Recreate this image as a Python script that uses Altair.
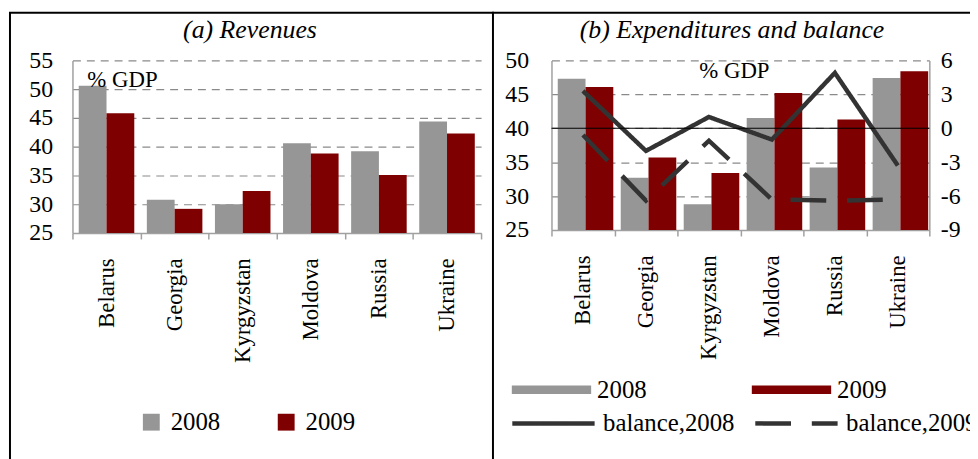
import altair as alt
import pandas as pd

# ---------------- data ----------------
countries = ["Belarus", "Georgia", "Kyrgyzstan", "Moldova", "Russia", "Ukraine"]
years = ["2008", "2009"]
revenues_2008 = [50.6, 30.8, 30.0, 40.6, 39.2, 44.4]
revenues_2009 = [45.8, 29.2, 32.3, 38.8, 35.1, 42.3]
expenditures_2008 = [47.3, 32.7, 28.8, 41.5, 34.2, 47.4]
expenditures_2009 = [46.1, 35.7, 33.4, 45.2, 41.3, 48.4]
balance_series = ["balance,2008", "balance,2009"]
balance_2008 = [3.3, -2.0, 1.0, -1.0, 4.9, -3.3]
balance_2009 = [-0.6, -6.4, -1.1, -6.3, -6.4, -6.3]
left_ticks = [25, 30, 35, 40, 45, 50, 55]
right_ticks_primary = [25, 30, 35, 40, 45, 50]
right_ticks_secondary = [-9, -6, -3, 0, 3, 6]
panel_titles = ["(a) Revenues", "(b) Expenditures and balance"]
unit_label = "% GDP"

# ---------------- styles ----------------
FONT = "Liberation Serif"
GRAY = "#969696"
RED = "#7f0000"
LINE = "#333333"
AXIS_GRAY = "#a0a0a0"
GRID_GRAY = "#8a8a8a"

LW, LH = 412, 174
RW, RH = 381, 171


def long_df(a, b, labels, key):
    return pd.DataFrame({
        "country": countries * 2,
        key: [labels[0]] * len(countries) + [labels[1]] * len(countries),
        "value": a + b,
    })


rev_df = long_df(revenues_2008, revenues_2009, years, "year")
exp_df = long_df(expenditures_2008, expenditures_2009, years, "year")
bal_df = long_df(balance_2008, balance_2009, balance_series, "series")
blank = alt.Data(values=[{}])


def x_enc():
    return alt.X(
        "country:N", sort=countries,
        scale=alt.Scale(paddingInner=0, paddingOuter=0),
        axis=alt.Axis(title=None, labelAngle=270, labelFontSize=23, labelPadding=19,
                      tickBand="extent", ticks=True, tickSize=6, tickColor=AXIS_GRAY,
                      tickWidth=1.5, domainColor=AXIS_GRAY, domainWidth=1.5,
                      grid=False, labelOverlap=False),
    )


def bar_layer(df, ymax, ticks, pad_outer, label_pad, legend):
    return alt.Chart(df).mark_bar().encode(
        x=x_enc(),
        xOffset=alt.XOffset("year:N", sort=years,
                            scale=alt.Scale(paddingInner=0, paddingOuter=pad_outer)),
        y=alt.Y("value:Q",
                scale=alt.Scale(domain=[25, ymax], nice=False, zero=False),
                axis=alt.Axis(title=None, values=ticks, grid=True, gridDash=[8, 6],
                              gridColor=GRID_GRAY, gridWidth=1.2, ticks=False,
                              domainColor=AXIS_GRAY, domainWidth=1.5,
                              labelFontSize=24, labelPadding=label_pad,
                              labelOverlap=False)),
        y2=alt.datum(25),
        color=alt.Color("year:N", sort=years,
                        scale=alt.Scale(domain=years, range=[GRAY, RED]),
                        legend=legend),
    )


def text_layer(txt, x, y, size, style="normal", align="left", baseline="middle"):
    return alt.Chart(blank).mark_text(
        font=FONT, fontSize=size, fontStyle=style, align=align,
        baseline=baseline, color="black",
    ).encode(x=alt.value(x), y=alt.value(y), text=alt.value(txt))


def vrule(x, y0, y1):
    return alt.Chart(blank).mark_rule(color="black", strokeWidth=2).encode(
        x=alt.value(x), y=alt.value(y0), y2=alt.value(y1))


def hrule(y, x0, x1):
    return alt.Chart(blank).mark_rule(color="black", strokeWidth=2).encode(
        y=alt.value(y), x=alt.value(x0), x2=alt.value(x1))


# ---------------- panel (a) ----------------
left_legend = alt.Legend(
    title=None, orient="none", legendX=67, legendY=352, direction="horizontal",
    symbolType="square", symbolSize=289, symbolStrokeWidth=0,
    labelFontSize=25, labelOffset=7, columnPadding=54, padding=0,
)

left = alt.layer(
    bar_layer(rev_df, 55, left_ticks, 0.226, 20, left_legend),
    text_layer(unit_label, 15, 20, 23),
    text_layer(panel_titles[0], 179, -23, 26, "italic", "center", "alphabetic"),
    vrule(-63, -48, 420),
    vrule(424, -48, 420),
    hrule(-48, -64, 425),
).properties(width=LW, height=LH)

# ---------------- panel (b) ----------------
right_legend = alt.Legend(
    title=None, orient="none", legendX=-40, legendY=292, direction="horizontal",
    symbolType="M-1,-0.106H1V0.106H-1Z", symbolSize=6400, symbolStrokeWidth=0,
    labelFontSize=25, labelOffset=6, columnPadding=106, padding=0,
)

bars_r = bar_layer(exp_df, 50, right_ticks_primary, 0.245, 23, right_legend)

right_axis = alt.Axis(title=None, orient="right", values=right_ticks_secondary,
                      labelExpr="toString(datum.value)", grid=False, ticks=False,
                      domainColor=AXIS_GRAY, domainWidth=1.5,
                      labelFontSize=24, labelPadding=11, labelOverlap=False,
                      labelBound=False, labelFlush=False)

lines = alt.Chart(bal_df).mark_line(color=LINE, strokeWidth=4.5).encode(
    x=x_enc(),
    y=alt.Y("value:Q",
            scale=alt.Scale(domain=[-9, 6], nice=False, zero=False),
            axis=right_axis),
    strokeDash=alt.StrokeDash(
        "series:N", sort=balance_series,
        scale=alt.Scale(domain=balance_series, range=[[1, 0], [36, 21]]),
        legend=alt.Legend(
            title=None, orient="none", legendX=-42, legendY=322, direction="horizontal",
            symbolType="stroke", symbolSize=6889, symbolStrokeWidth=4.5,
            symbolStrokeColor=LINE, labelFontSize=25, labelOffset=6,
            columnPadding=11, padding=0,
        ),
    ),
)

zero_rule = alt.Chart(blank).mark_rule(color="black", strokeWidth=1.2).encode(
    y=alt.YDatum(0, axis=right_axis))

right = alt.layer(
    bars_r,
    alt.layer(lines, zero_rule),
    text_layer(unit_label, 149, 11, 23),
    text_layer(panel_titles[1], 182, -23, 26, "italic", "center", "alphabetic"),
    hrule(-48, -60, 440),
).resolve_scale(y="independent").properties(width=RW, height=RH)

chart = alt.hconcat(left, right, spacing=71, bounds="flush").resolve_scale(
    color="independent", strokeDash="independent", x="independent", y="independent"
).resolve_legend(
    color="independent", strokeDash="independent"
).properties(
    autosize=alt.AutoSizeParams(type="none"),
    padding={"left": 65, "top": 51, "right": 905, "bottom": 400},
).configure_view(strokeWidth=0).configure_axis(
    labelFont=FONT, labelColor="black"
).configure_legend(labelFont=FONT, labelColor="black")

chart.save("out.html", embed_options={"renderer": "svg", "actions": False})
